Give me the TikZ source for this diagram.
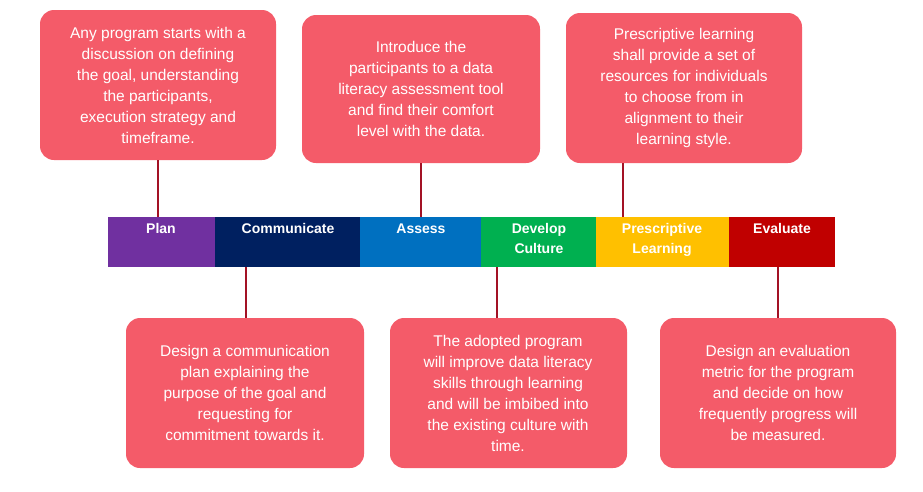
\documentclass[tikz,border=0pt]{standalone}
\usepackage{fontspec}
\setmainfont{Liberation Sans}
\definecolor{coral}{HTML}{F45B69}
\definecolor{lnk}{HTML}{A31225}
\definecolor{cplan}{HTML}{7030A0}
\definecolor{ccomm}{HTML}{002060}
\definecolor{cass}{HTML}{0070C0}
\definecolor{cdev}{HTML}{00B050}
\definecolor{cpre}{HTML}{FFC000}
\definecolor{ceva}{HTML}{C00000}
\begin{document}
\begin{tikzpicture}[x=1pt,y=-1pt,
  card/.style={fill=coral,rounded corners=14pt,inner sep=0pt},
  cardtext/.style={text=white,align=center,font=\fontsize{15.5}{21}\selectfont},
  seg/.style={inner sep=0pt},
  segtext/.style={text=white,align=center,font=\bfseries\fontsize{14}{20}\selectfont,anchor=north},
  link/.style={draw=lnk,line width=1.6pt}]
\useasboundingbox (0,0) rectangle (923,491);
% bar
\fill[cplan] (108,217) rectangle (215,267);
\fill[ccomm] (215,217) rectangle (360,267);
\fill[cass] (360,217) rectangle (481,267);
\fill[cdev] (481,217) rectangle (596,267);
\fill[cpre] (596,217) rectangle (729,267);
\fill[ceva] (729,217) rectangle (835,267);
\node[segtext] (s1) at (161,220) {Plan};
\node[segtext] (s2) at (288,220) {Communicate};
\node[segtext] (s3) at (421,220) {Assess};
\node[segtext] (s4) at (539,220) {Develop\\Culture};
\node[segtext] (s5) at (662,220) {Prescriptive\\Learning};
\node[segtext] (s6) at (782,220) {Evaluate};
% coordinates on bar
\coordinate (b1) at (158,217);
\coordinate (b2) at (246,267);
\coordinate (b3) at (421,217);
\coordinate (b4) at (497,267);
\coordinate (b5) at (623,217);
\coordinate (b6) at (778,267);
% cards
\fill[card] (40,10) rectangle (276,160);
\fill[card] (302,15) rectangle (540,163);
\fill[card] (566,13) rectangle (802,163);
\fill[card] (126,318) rectangle (364,468);
\fill[card] (390,318) rectangle (627,468);
\fill[card] (660,318) rectangle (896,468);
\node[cardtext] (c1) at (158,85) {Any program starts with a\\discussion on defining\\the goal, understanding\\the participants,\\execution strategy and\\timeframe.};
\node[cardtext] (c2) at (421,89) {Introduce the\\participants to a data\\literacy assessment tool\\and find their comfort\\level with the data.};
\node[cardtext] (c3) at (684,88) {Prescriptive learning\\shall provide a set of\\resources for individuals\\to choose from in\\alignment to their\\learning style.};
\node[cardtext] (c4) at (245,393) {Design a communication\\plan explaining the\\purpose of the goal and\\requesting for\\commitment towards it.};
\node[cardtext] (c5) at (508,393) {The adopted program\\will improve data literacy\\skills through learning\\and will be imbibed into\\the existing culture with\\time.};
\node[cardtext] (c6) at (778,393) {Design an evaluation\\metric for the program\\and decide on how\\frequently progress will\\be measured.};
% links
\draw[link] (158,160) -- (b1);
\draw[link] (421,163) -- (b3);
\draw[link] (623,163) -- (b5);
\draw[link] (b2) -- (246,318);
\draw[link] (b4) -- (497,318);
\draw[link] (b6) -- (778,318);
\end{tikzpicture}
\end{document}
